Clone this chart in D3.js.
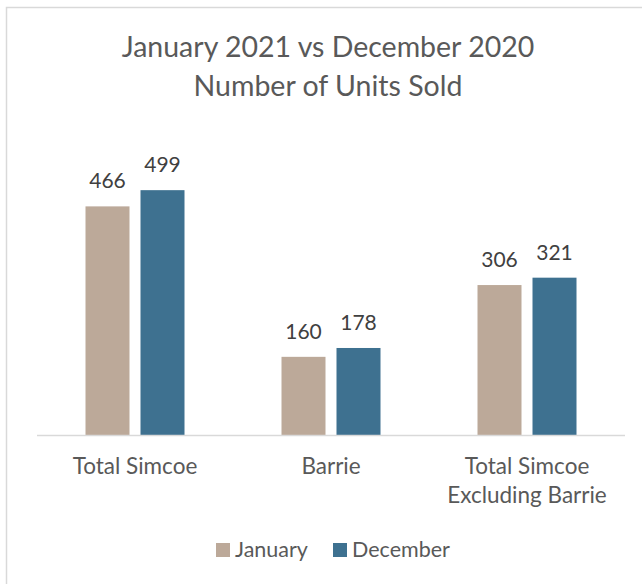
<!DOCTYPE html>
<html><head><meta charset="utf-8">
<script src="https://cdn.jsdelivr.net/npm/d3@7"></script>
<style>body{margin:0;background:#fff}svg{display:block}text{font-family:Lato,sans-serif}</style>
</head><body>
<script>
const categories = [["Total Simcoe"], ["Barrie"], ["Total Simcoe", "Excluding Barrie"]];
const seriesNames = ["January", "December"];
const january = [466, 160, 306];
const december = [499, 178, 321];
const colors = ["#bca999", "#3e7190"];

const W = 642, H = 584;
const svg = d3.select("body").append("svg").attr("width", W).attr("height", H);
svg.append("rect").attr("x", 6.5).attr("y", 7.5).attr("width", 700).attr("height", 700)
  .attr("fill", "#fff").attr("stroke", "#d9d9d9").attr("stroke-width", 1.5);

const x0 = d3.scaleBand().domain(d3.range(categories.length)).range([37, 625]);
const x1 = d3.scaleBand().domain(seriesNames).range([x0.bandwidth()/2 - 49.5, x0.bandwidth()/2 + 49.5]).paddingInner(0.2);
const y = d3.scaleLinear().domain([0, 600]).range([435.5, 140.5]);

svg.append("text").attr("x", 328).attr("y", 57).attr("text-anchor", "middle")
  .attr("font-size", 28.5).attr("fill", "#595959").text("January 2021 vs December 2020");
svg.append("text").attr("x", 328).attr("y", 96).attr("text-anchor", "middle")
  .attr("font-size", 28.5).attr("fill", "#595959").text("Number of Units Sold");

const series = [january, december];
series.forEach((vals, si) => {
  const g = svg.append("g");
  g.selectAll("rect").data(vals).join("rect")
    .attr("x", (d, i) => x0(i) + x1(seriesNames[si]))
    .attr("y", d => y(d)).attr("width", x1.bandwidth())
    .attr("height", d => y(0) - y(d)).attr("fill", colors[si]);
  g.selectAll("text").data(vals).join("text")
    .attr("x", (d, i) => x0(i) + x1(seriesNames[si]) + x1.bandwidth()/2)
    .attr("y", d => y(d) - 18).attr("text-anchor", "middle")
    .attr("font-size", 21).attr("fill", "#404040").text(d => d);
});

svg.append("line").attr("x1", 37).attr("x2", 625).attr("y1", 435.5).attr("y2", 435.5)
  .attr("stroke", "#d9d9d9").attr("stroke-width", 1.5);

const cl = svg.append("g");
categories.forEach((lines, i) => {
  lines.forEach((t, j) => {
    cl.append("text").attr("x", x0(i) + x0.bandwidth()/2).attr("y", 474.3 + j*28.5)
      .attr("text-anchor", "middle").attr("font-size", 22.5).attr("fill", "#595959").text(t);
  });
});

const legendX = [216, 333];
seriesNames.forEach((n, i) => {
  svg.append("rect").attr("x", legendX[i]).attr("y", 543).attr("width", 14).attr("height", 14).attr("fill", colors[i]);
  svg.append("text").attr("x", legendX[i] + 19).attr("y", 557).attr("font-size", 21.5)
    .attr("fill", "#595959").text(n);
});
</script>
</body></html>
